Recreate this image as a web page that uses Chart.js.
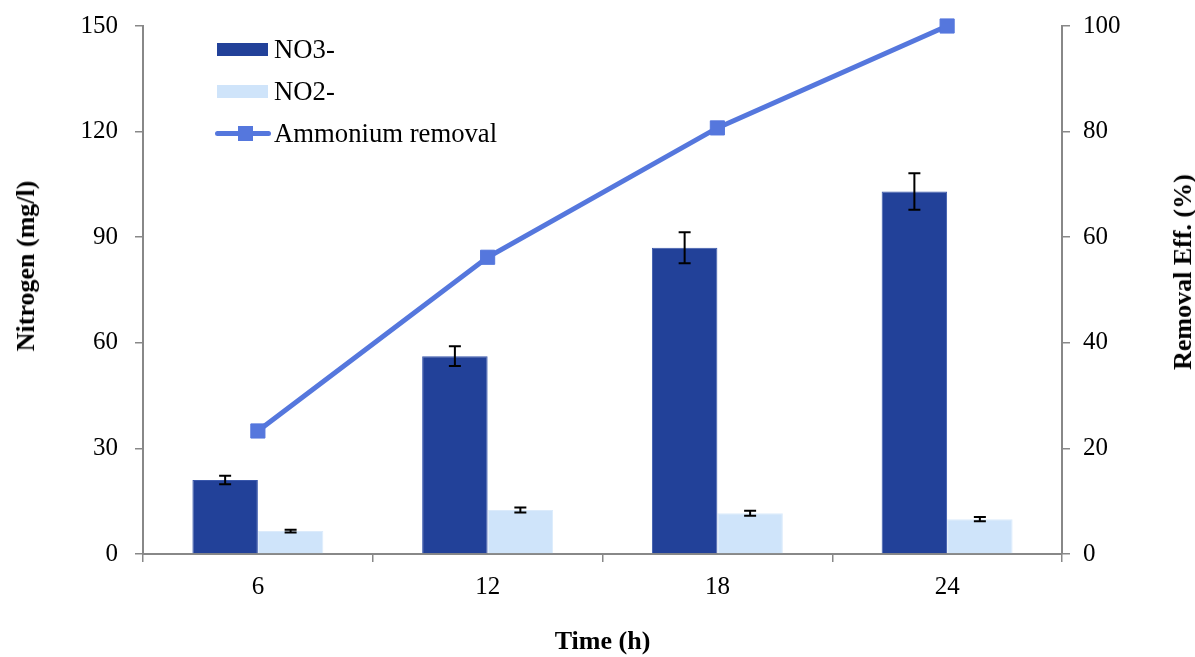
<!DOCTYPE html>
<html>
<head>
<meta charset="utf-8">
<script src="https://cdn.jsdelivr.net/npm/chart.js@4.4.1/dist/chart.umd.min.js"></script>
<style>
  body { margin: 0; background: #fff; }
  #wrap { position: relative; width: 1195px; height: 657px; }
  #wrap canvas { position: absolute; left: 0; top: 0; }
  .serif { font-family: "Liberation Serif", "Times New Roman", serif; color: #000; }
  .legend { position: absolute; left: 215px; top: 0; font-size: 26.7px; }
  .legend .row { position: absolute; left: 0; height: 30px; white-space: nowrap; }
  .legend .sw { position: absolute; left: 2px; top: 9px; width: 51px; height: 13px; }
  .legend .ln { position: absolute; left: 0; top: 13px; width: 56px; height: 5px; border-radius: 3px; background: #5577dd; }
  .legend .mk { position: absolute; left: 23px; top: 8px; width: 15px; height: 15px; background: #5577dd; }
  .legend .tx { position: absolute; left: 59px; top: 0; line-height: 30px; }
  .ytitle { position: absolute; font-size: 26px; font-weight: bold; line-height: 1; white-space: nowrap;
            transform: translate(-50%, -50%) rotate(-90deg); }
</style>
</head>
<body>
<div id="wrap">
  <canvas id="chart" width="1195" height="657"></canvas>
  <div class="legend serif">
    <div class="row" style="top:34px"><div class="sw" style="background:#224199"></div><div class="tx">NO3-</div></div>
    <div class="row" style="top:76px"><div class="sw" style="background:#cfe4fa"></div><div class="tx">NO2-</div></div>
    <div class="row" style="top:118px"><div class="ln"></div><div class="mk"></div><div class="tx">Ammonium removal</div></div>
  </div>
  <div class="ytitle serif" style="left:26px; top:266px">Nitrogen (mg/l)</div>
  <div class="ytitle serif" style="left:1183px; top:272px">Removal Eff. (%)</div>
</div>
<script>
const times = ['6', '12', '18', '24'];
const no3 = [21.0, 56.2, 87.0, 103.0];
const no3Err = [1.2, 2.8, 4.4, 5.2];
const no2 = [6.5, 12.5, 11.6, 9.9];
const no2Err = [0.4, 0.7, 0.7, 0.6];
const removal = [23.3, 56.2, 80.7, 100];

const font = "'Liberation Serif', 'Times New Roman', serif";
const axisGray = '#888888';

// draws the black error bars on top of the bars
const errorBars = {
  id: 'errorBars',
  afterDatasetsDraw(chart) {
    const ctx = chart.ctx;
    chart.data.datasets.forEach((ds, i) => {
      if (!ds.errors) return;
      const meta = chart.getDatasetMeta(i);
      const yScale = chart.scales[meta.yAxisID];
      meta.data.forEach((bar, j) => {
        const v = ds.data[j], e = ds.errors[j];
        const top = yScale.getPixelForValue(v + e);
        const bot = yScale.getPixelForValue(v - e);
        const x = bar.x, half = 6;
        ctx.save();
        ctx.strokeStyle = '#000';
        ctx.lineWidth = 2;
        ctx.beginPath();
        ctx.moveTo(x, top); ctx.lineTo(x, bot);
        ctx.moveTo(x - half, top); ctx.lineTo(x + half, top);
        ctx.moveTo(x - half, bot); ctx.lineTo(x + half, bot);
        ctx.stroke();
        ctx.restore();
      });
    });
  }
};

// fixed axis sizes so the plot area sits where the original one does
function fitY(width) {
  return s => { s.width = width; s.paddingTop = 0; s.paddingBottom = 0; };
}

const ctx = document.getElementById('chart').getContext('2d');
new Chart(ctx, {
  type: 'bar',
  data: {
    labels: times,
    datasets: [
      {
        label: 'Ammonium removal',
        type: 'line',
        data: removal,
        yAxisID: 'y1',
        borderColor: '#5577dd',
        backgroundColor: '#5577dd',
        borderWidth: 5,
        pointStyle: 'rect',
        pointRadius: 10,
        pointBorderWidth: 1,
        tension: 0,
        clip: false,
        order: 0
      },
      {
        label: 'NO3-',
        data: no3,
        errors: no3Err,
        yAxisID: 'y',
        backgroundColor: '#224199',
        borderColor: '#3a58ac',
        borderWidth: 1,
        order: 1
      },
      {
        label: 'NO2-',
        data: no2,
        errors: no2Err,
        yAxisID: 'y',
        backgroundColor: '#cfe4fa',
        borderColor: '#dcebfb',
        borderWidth: 1,
        order: 1
      }
    ]
  },
  options: {
    responsive: false,
    animation: false,
    categoryPercentage: 0.57,
    barPercentage: 1,
    layout: { padding: { top: 26, left: 0, right: 0, bottom: 0 } },
    plugins: {
      legend: { display: false },
      tooltip: { enabled: false }
    },
    scales: {
      x: {
        offset: true,
        grid: { offset: true, drawOnChartArea: false, color: axisGray, lineWidth: 1.5, tickLength: 8 },
        border: { color: axisGray, width: 2 },
        ticks: { color: '#000', font: { family: font, size: 25 }, padding: 10 },
        title: { display: true, text: 'Time (h)', color: '#000', font: { family: font, size: 26, weight: 'bold', lineHeight: 1 }, padding: { top: 0, bottom: 2 } },
        afterFit: s => { s.height = 103; s.paddingLeft = 0; s.paddingRight = 0; }
      },
      y: {
        position: 'left',
        min: 0, max: 150,
        ticks: { stepSize: 30, color: '#000', font: { family: font, size: 25 }, padding: 17 },
        grid: { drawOnChartArea: false, color: axisGray, lineWidth: 1.5, tickLength: 8 },
        border: { color: axisGray, width: 2 },
        afterFit: fitY(143)
      },
      y1: {
        position: 'right',
        min: 0, max: 100,
        ticks: { stepSize: 20, color: '#000', font: { family: font, size: 25 }, padding: 13 },
        grid: { drawOnChartArea: false, color: axisGray, lineWidth: 1.5, tickLength: 8 },
        border: { color: axisGray, width: 2 },
        afterFit: fitY(133)
      }
    }
  },
  plugins: [errorBars]
});
</script>
</body>
</html>
